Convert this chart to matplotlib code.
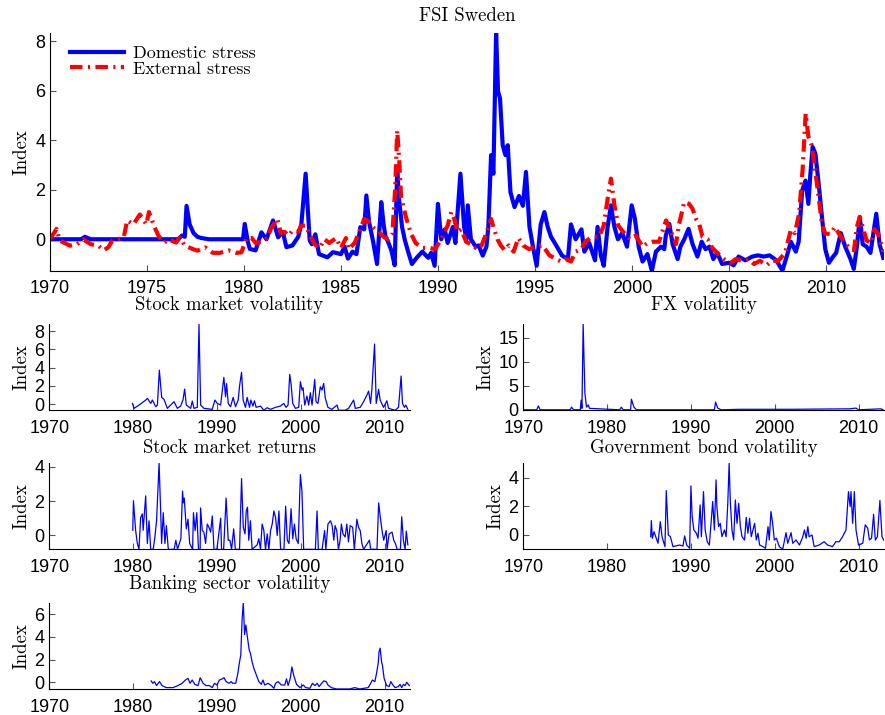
import matplotlib
matplotlib.use("Agg")
import matplotlib.pyplot as plt

# FSI components (year, index value)
dom_year = [1970.0, 1971.6, 1971.8, 1972.1, 1976.6, 1976.8, 1976.95, 1977.04, 1977.2, 1977.4,
            1977.6, 1977.8, 1978.2, 1979.95, 1980.04, 1980.2, 1980.3, 1980.6, 1980.9, 1981.16,
            1981.5, 1981.76, 1982.0, 1982.19, 1982.5, 1982.8, 1982.96, 1983.18, 1983.39, 1983.5,
            1983.68, 1983.87, 1984.3, 1984.59, 1985.0, 1985.19, 1985.36, 1985.6, 1985.8, 1986.0,
            1986.2, 1986.31, 1986.45, 1986.66, 1986.86, 1987.08, 1987.2, 1987.3, 1987.4, 1987.6,
            1987.77, 1987.9, 1988.0, 1988.15, 1988.3, 1988.5, 1988.66, 1988.9, 1989.2, 1989.5,
            1989.65, 1989.83, 1990.0, 1990.17, 1990.35, 1990.5, 1990.77, 1990.9, 1991.16, 1991.35,
            1991.47, 1991.54, 1991.7, 1991.95, 1992.1, 1992.31, 1992.5, 1992.6, 1992.74, 1992.86,
            1993.0, 1993.1, 1993.2, 1993.34, 1993.48, 1993.6, 1993.74, 1993.95, 1994.18, 1994.38,
            1994.54, 1994.72, 1994.9, 1995.09, 1995.3, 1995.49, 1995.66, 1995.83, 1996.1, 1996.4,
            1996.7, 1996.86, 1997.1, 1997.4, 1997.55, 1997.8, 1998.1, 1998.23, 1998.4, 1998.55,
            1998.75, 1998.92, 1999.1, 1999.28, 1999.5, 1999.75, 1999.99, 2000.15, 2000.35, 2000.55,
            2000.8, 2001.03, 2001.24, 2001.5, 2001.67, 2001.75, 2001.93, 2002.1, 2002.36, 2002.5,
            2002.7, 2002.92, 2003.13, 2003.38, 2003.6, 2003.8, 2004.0, 2004.2, 2004.4, 2004.65,
            2005.0, 2005.25, 2005.5, 2005.85, 2006.2, 2006.5, 2006.8, 2007.1, 2007.45, 2007.76,
            2008.0, 2008.2, 2008.45, 2008.6, 2008.78, 2008.95, 2009.1, 2009.2, 2009.32, 2009.46,
            2009.63, 2009.8, 2009.97, 2010.16, 2010.33, 2010.53, 2010.77, 2011.0, 2011.27, 2011.44,
            2011.6, 2011.75, 2011.9, 2012.1, 2012.3, 2012.6, 2012.77, 2012.96]
dom_val = [0, 0, 0.1, 0, 0, 0.15, 0.1, 1.35, 0.6, 0.25,
           0.1, 0.05, 0, 0, 0.62, -0.1, -0.39, -0.45, 0.28, 0.0,
           0.76, 0.08, 0.3, -0.32, -0.25, 0.1, 0.62, 2.65, -0.05, -0.2,
           0.2, -0.6, -0.73, -0.52, -0.6, -0.3, -0.78, -0.5, -0.6, 0.49,
           0.4, 1.77, 0.7, -0.1, -1.0, 1.5, 0.6, 0.1, -0.05, -0.45,
           -1.05, 2.78, 1.6, 0.5, -0.05, -0.6, -1.0, -0.75, -0.5, -0.75,
           -0.55, -1.07, 1.43, 0.0, 0.4, -0.15, 0.5, -0.15, 2.65, 0.5,
           0.0, 1.37, 0.0, -0.3, -0.25, -0.66, -0.3, 0.5, 3.4, 2.65,
           8.35, 5.96, 5.7, 3.8, 3.4, 3.8, 1.9, 1.3, 1.75, 1.35,
           2.72, 0.5, -0.3, -1.07, 0.6, 1.1, 0.5, 0.1, -0.25, -0.66,
           -0.8, 0.6, 0.0, 0.4, -0.5, -0.15, -0.85, 0.5, -0.66, -1.07,
           0.5, 1.37, 0.5, 0.0, 0.25, -0.3, 1.37, 0.85, -0.3, -0.9,
           -0.6, -1.27, -0.5, -0.3, -0.4, 0.15, 0.62, -0.2, -0.8, -0.3,
           0.0, 0.42, -0.2, -0.7, -0.1, -0.4, -0.3, -0.8, -0.55, -1.0,
           -0.95, -1.05, -0.7, -0.85, -0.7, -0.65, -0.7, -0.65, -0.85, -1.27,
           -0.65, -0.1, -0.5, -0.1, 1.97, 2.37, 1.43, 2.6, 3.73, 3.46,
           2.25, 0.9, -0.4, -0.95, -0.75, -0.55, 0.25, -0.3, -0.8, -1.2,
           -0.3, 0.9, -0.2, -0.3, -0.55, 1.03, -0.2, -0.75]

ext_year = [1970.0, 1970.34, 1970.5, 1971.03, 1971.4, 1971.7, 1972.1, 1972.5, 1972.75, 1973.0,
            1973.2, 1973.5, 1973.8, 1973.98, 1974.3, 1974.63, 1974.97, 1975.1, 1975.4, 1975.6,
            1975.9, 1976.1, 1976.5, 1976.7, 1976.95, 1977.38, 1977.6, 1978.0, 1978.4, 1978.75,
            1979.2, 1979.6, 1979.87, 1980.13, 1980.4, 1980.6, 1980.9, 1981.2, 1981.4, 1981.72,
            1981.9, 1982.1, 1982.3, 1982.5, 1982.8, 1982.95, 1983.2, 1983.4, 1983.65, 1983.9,
            1984.15, 1984.4, 1984.75, 1985.0, 1985.26, 1985.4, 1985.7, 1985.95, 1986.2, 1986.45,
            1986.7, 1986.95, 1987.2, 1987.45, 1987.65, 1987.8, 1987.9, 1988.0, 1988.1, 1988.35,
            1988.6, 1988.85, 1989.2, 1989.55, 1989.85, 1990.17, 1990.35, 1990.5, 1990.69, 1990.85,
            1991.0, 1991.2, 1991.45, 1991.7, 1991.95, 1992.2, 1992.45, 1992.74, 1992.9, 1993.07,
            1993.24, 1993.45, 1993.65, 1993.9, 1994.15, 1994.4, 1994.7, 1995.0, 1995.4, 1995.75,
            1996.1, 1996.35, 1996.6, 1996.86, 1997.1, 1997.4, 1997.6, 1997.95, 1998.3, 1998.55,
            1998.75, 1998.92, 1999.1, 1999.3, 1999.55, 1999.9, 2000.2, 2000.55, 2000.8, 2001.05,
            2001.4, 2001.76, 2002.0, 2002.27, 2002.43, 2002.7, 2002.95, 2003.13, 2003.3, 2003.47,
            2003.64, 2003.9, 2004.15, 2004.4, 2004.75, 2005.1, 2005.35, 2005.7, 2006.0, 2006.3,
            2006.6, 2006.95, 2007.2, 2007.55, 2007.9, 2008.2, 2008.4, 2008.62, 2008.8, 2008.96,
            2009.1, 2009.27, 2009.47, 2009.63, 2009.8, 2009.97, 2010.25, 2010.47, 2010.68, 2010.9,
            2011.2, 2011.45, 2011.6, 2011.75, 2011.9, 2012.1, 2012.35, 2012.5, 2012.7, 2012.96]
ext_val = [0, 0.42, -0.05, -0.26, -0.2, 0.0, -0.2, -0.26, -0.45, -0.33,
           -0.07, 0.0, 0.07, 0.76, 0.6, 1.0, 0.6, 1.1, 0.47, 0.13,
           -0.13, 0.0, -0.13, 0.07, -0.26, -0.4, -0.46, -0.33, -0.55, -0.55,
           -0.45, -0.55, -0.53, 0.05, 0.05, -0.15, -0.1, 0.05, 0.45, 0.82,
           0.25, 0.3, 0.15, 0.35, 0.3, 0.55, 0.55, 0.15, -0.2, -0.35,
           0.0, -0.15, 0.05, -0.35, 0.05, -0.4, -0.15, 0.3, 0.82, 0.7,
           0.45, 0.3, 0.1, 0.0, 0.2, 2.1, 4.4, 3.26, 1.7, 0.9,
           0.25, -0.15, -0.35, -0.35, -0.4, 0.0, 0.3, 0.55, 1.1, 0.8,
           0.3, 0.4, -0.1, -0.2, -0.35, -0.35, 0.15, 0.82, 0.4, 0.0,
           -0.25, -0.45, -0.25, -0.5, 0.05, -0.25, -0.4, -0.3, -0.25, -0.65,
           -0.8, -0.9, -0.8, -0.9, -0.5, -0.4, -0.1, 0.1, 0.1, 0.55,
           1.64, 2.45, 1.37, 0.55, 0.3, 0.0, 0.15, -0.3, -0.15, -0.1,
           -0.1, 0.76, 0.35, -0.2, 0.6, 1.5, 1.43, 1.23, 0.83, 0.62,
           0.1, 0.0, -0.35, -0.55, -0.8, -0.95, -0.8, -0.87, -0.8, -1.0,
           -0.87, -1.05, -0.87, -0.87, -0.55, 0.4, 0.25, 1.03, 2.78, 5.08,
           4.14, 3.8, 2.66, 1.7, 0.63, 0.22, 0.22, 0.5, 0.22, -0.05,
           -0.35, -0.45, 0.5, 0.9, 0.5, -0.05, -0.15, 0.4, 0.22, -0.5]

svol_year = [1979.92, 1980.12, 1980.71, 1981.51, 1981.71, 1982.1, 1982.3, 1982.7, 1982.9, 1983.13,
             1983.41, 1983.69, 1984.09, 1984.48, 1984.88, 1985.28, 1985.67, 1985.95, 1986.15, 1986.35,
             1986.87, 1987.06, 1987.26, 1987.66, 1987.86, 1988.06, 1988.45, 1989.44, 1989.76, 1990.04,
             1990.44, 1990.83, 1991.03, 1991.15, 1991.35, 1991.63, 1991.94, 1992.22, 1992.54, 1992.7,
             1992.94, 1993.13, 1993.41, 1993.61, 1993.89, 1994.05, 1994.29, 1994.48, 1994.68, 1995.2,
             1995.6, 1995.99, 1996.39, 1996.98, 1997.58, 1997.98, 1998.25, 1998.49, 1998.69, 1998.85,
             1999.05, 1999.37, 1999.76, 1999.96, 2000.16, 2000.28, 2000.48, 2000.75, 2000.95, 2001.15,
             2001.35, 2001.67, 2001.83, 2002.06, 2002.34, 2002.54, 2002.74, 2002.94, 2003.25, 2003.73,
             2004.33, 2004.52, 2005.32, 2005.71, 2006.31, 2006.51, 2007.1, 2007.5, 2007.9, 2008.1,
             2008.33, 2008.49, 2008.81, 2009.01, 2009.29, 2009.48, 2009.88, 2010.28, 2010.48, 2011.27,
             2011.67, 2011.98, 2012.14, 2012.38, 2012.54, 2012.78]
svol_val = [0.07, -0.47, -0.11, 0.44, 0.62, 0.07, 0.44, -0.29, -0.11, 3.72,
            0.73, 0.51, -0.47, -0.11, 0.26, -0.47, -0.22, 0.44, 1.64, -0.11,
            -0.47, 0.33, -0.47, -0.36, 8.76, -0.11, -0.47, -0.58, 0.44, 0.07,
            -0.11, 2.92, 0.8, 2.26, 0.07, -0.29, 0.73, -0.29, 0.44, 1.97,
            3.47, 0.44, -0.36, 0.73, -0.36, 0.44, -0.22, 0.36, -0.36, -0.22,
            -0.68, -0.4, -0.58, -0.36, -0.22, 0.07, -0.36, -0.11, 3.25, 2.19,
            0.07, -0.47, -0.36, 2.45, 1.53, 1.79, -0.11, 0.88, -0.11, 1.24,
            -0.11, 2.7, 0.26, 0.07, 1.9, 1.53, 2.26, 0.62, -0.36, -0.58,
            -0.11, -0.68, -0.68, -0.47, 0.44, -0.47, -0.36, 0.26, 0.99, 1.42,
            0.07, 1.61, 6.57, 0.07, 1.61, 0.44, -0.36, 0.36, -0.47, -0.68,
            -0.36, 3.07, 0.07, -0.36, -0.11, -0.58]

fx_year = [1970.0, 1971.6, 1971.8, 1972.0, 1975.6, 1975.75, 1976.0, 1976.8, 1976.9, 1977.0,
           1977.14, 1977.35, 1977.55, 1977.75, 1977.9, 1981.5, 1981.7, 1981.9, 1982.8, 1982.9,
           1983.2, 1983.5, 1992.8, 1992.94, 1993.2, 1993.6, 1995.8, 2001.7, 2008.9, 2009.7,
           2010.0, 2012.7, 2013.0]
fx_val = [0.0, 0.0, 0.8, 0.0, 0.0, 0.55, 0.0, 0.0, 2.0, 0.3,
          17.8, 3.4, 0.55, 1.0, 0.3, 0.0, 0.55, 0.0, 0.0, 2.2,
          0.55, 0.0, 0.0, 1.6, 0.35, 0.0, 0.1, 0.1, 0.2, 0.35,
          0.0, 0.2, -0.1]

sret_year = [1979.96, 1980.04, 1980.3, 1980.5, 1980.7, 1980.9, 1981.1, 1981.2, 1981.5, 1981.7,
             1981.9, 1982.1, 1982.4, 1982.6, 1982.8, 1983.1, 1983.3, 1983.4, 1983.6, 1983.8,
             1983.97, 1984.2, 1984.9, 1985.1, 1985.3, 1985.7, 1985.9, 1986.0, 1986.1, 1986.35,
             1986.55, 1986.75, 1987.1, 1987.2, 1987.4, 1987.6, 1987.8, 1988.0, 1988.05, 1988.25,
             1988.45, 1988.65, 1988.85, 1989.05, 1989.25, 1989.45, 1989.65, 1990.0, 1990.45, 1990.55,
             1990.8, 1991.1, 1991.35, 1991.55, 1991.75, 1992.0, 1992.2, 1992.7, 1992.94, 1993.15,
             1993.35, 1993.5, 1993.65, 1993.8, 1994.0, 1994.2, 1994.8, 1995.0, 1995.2, 1995.4,
             1995.6, 1995.8, 1996.0, 1996.2, 1996.4, 1996.6, 1996.8, 1997.0, 1997.2, 1997.4,
             1997.6, 1998.0, 1998.2, 1998.4, 1998.6, 1998.85, 1999.05, 1999.25, 1999.45, 1999.7,
             1999.96, 2000.15, 2000.35, 2001.75, 2001.95, 2002.1, 2002.55, 2002.85, 2003.0, 2003.25,
             2003.55, 2003.75, 2003.95, 2004.1, 2004.3, 2004.5, 2004.7, 2004.85, 2005.05, 2005.3,
             2005.5, 2005.7, 2005.9, 2006.2, 2006.4, 2006.7, 2006.9, 2007.1, 2007.3, 2007.5,
             2008.2, 2008.35, 2009.1, 2009.3, 2009.5, 2009.7, 2009.9, 2010.2, 2010.3, 2010.55,
             2010.9, 2011.1, 2011.3, 2011.5, 2011.9, 2012.05, 2012.25, 2012.45, 2012.6, 2012.78]
sret_val = [0.3, 2.02, 0.3, -0.45, -0.81, 1.04, 1.25, 0.3, 2.3, -0.47,
            0.85, -0.81, -0.81, -0.09, 0.85, 4.2, 1.23, -0.47, 1.32, -0.47,
            0.57, -0.81, -0.81, -0.28, -0.81, -0.19, 2.58, 1.89, 2.17, 0.38,
            0.94, -0.47, -0.81, 1.32, 0.28, 1.32, -0.81, -0.81, 1.6, 0.28,
            0.19, -0.47, 0.66, 0.47, 0.19, 1.13, -0.81, -0.81, 1.0, -0.81,
            -0.81, 2.17, -0.28, -0.28, -0.81, 0.38, -0.81, -0.81, 3.3, 0.47,
            0.09, 1.42, 1.64, -0.28, 0.85, -0.81, -0.55, -0.19, -0.81, 0.66,
            0.28, -0.81, 0.09, -0.81, 0.28, 0.66, 1.42, 1.04, -0.0, 1.42,
            -0.81, -0.81, 1.7, -0.28, -0.47, 1.55, -0.19, 0.66, -0.19, -0.47,
            3.53, 2.55, -0.81, -0.81, 1.42, -0.81, -0.81, 0.28, -0.81, 0.66,
            0.85, 0.57, -0.28, 0.57, 0.28, -0.81, -0.28, 0.66, 0.09, -0.09,
            0.66, -0.38, 0.57, 0.47, -0.81, 0.94, 0.47, 0.28, -0.47, -0.81,
            -0.28, -0.81, -0.81, 1.89, 1.04, 0.28, -0.28, 0.28, -0.81, 0.09,
            0.19, -0.28, -0.47, -0.81, -0.81, 1.08, -0.28, -0.81, 0.25, -0.55]

gbond_year = [1985.2, 1985.28, 1985.4, 1985.6, 1985.8, 1986.07, 1986.35, 1986.55, 1986.9, 1987.06,
              1987.3, 1987.55, 1987.86, 1988.65, 1989.05, 1989.25, 1989.5, 1989.85, 1990.0, 1990.15,
              1990.35, 1990.65, 1990.85, 1991.1, 1991.25, 1991.5, 1991.7, 1991.95, 1992.2, 1992.6,
              1992.8, 1993.0, 1993.1, 1993.3, 1993.5, 1993.7, 1994.0, 1994.2, 1994.4, 1994.56,
              1994.7, 1994.9, 1995.1, 1995.3, 1995.5, 1995.7, 1995.9, 1996.1, 1996.4, 1996.6,
              1996.8, 1997.0, 1997.2, 1997.6, 1997.8, 1998.0, 1998.2, 1998.6, 1998.9, 1999.2,
              1999.35, 1999.55, 1999.75, 1999.95, 2000.2, 2000.55, 2000.95, 2001.35, 2001.55, 2001.95,
              2002.15, 2002.55, 2002.95, 2003.35, 2003.55, 2003.75, 2003.95, 2004.1, 2004.45, 2004.7,
              2005.3, 2005.9, 2006.3, 2006.9, 2007.3, 2007.7, 2008.1, 2008.5, 2008.8, 2009.0,
              2009.1, 2009.3, 2009.5, 2009.7, 2010.0, 2010.5, 2010.8, 2011.1, 2011.3, 2011.55,
              2011.8, 2012.0, 2012.25, 2012.55, 2012.8, 2013.0]
gbond_val = [-0.12, 1.0, -0.23, 0.23, -0.12, -0.58, 0.93, -0.12, -0.81, 3.09,
             0.0, -0.12, -0.81, -0.7, -0.77, -0.07, -0.7, -0.93, 3.42, 1.28,
             0.35, 0.12, -0.23, 2.09, -0.12, 3.02, 0.35, -0.47, -0.7, 2.33,
             0.35, 3.84, 1.98, 0.58, 0.81, -0.12, 0.35, -0.12, 2.21, 5.0,
             2.33, 0.35, -0.35, 2.44, 0.81, 2.21, 0.58, -0.12, -0.35, 1.23,
             0.12, 1.16, -0.12, 0.81, -0.35, 0.12, -0.7, -0.81, -0.93, 0.58,
             -0.35, 1.63, 0.81, -0.35, -0.23, -0.81, -1.0, 0.16, -0.58, 0.16,
             -0.58, -0.35, -0.7, -0.12, 0.35, -0.23, 0.58, -0.12, 0.0, -0.81,
             -0.7, -0.47, -0.7, -0.81, -0.47, -0.47, -0.12, 0.35, 3.02, 1.98,
             3.02, 0.81, 3.02, 0.35, -0.7, -0.58, 0.7, 0.47, -0.35, -0.23,
             1.44, -0.35, -0.12, 2.4, -0.12, -0.35]

bank_year = [1982.15, 1982.35, 1982.55, 1982.8, 1983.15, 1983.45, 1983.95, 1984.75, 1985.35, 1985.85,
             1986.25, 1986.55, 1986.8, 1987.05, 1987.35, 1987.75, 1988.0, 1988.35, 1988.7, 1989.1,
             1989.45, 1989.7, 1990.0, 1990.3, 1990.65, 1990.85, 1991.1, 1991.45, 1991.7, 1991.9,
             1992.25, 1992.5, 1992.7, 1992.85, 1993.0, 1993.15, 1993.3, 1993.45, 1993.6, 1993.85,
             1994.0, 1994.2, 1994.4, 1994.7, 1995.0, 1995.3, 1995.5, 1995.7, 1996.1, 1996.5,
             1996.8, 1997.0, 1997.3, 1997.7, 1998.1, 1998.3, 1998.5, 1998.75, 1998.95, 1999.15,
             1999.5, 1999.9, 2000.3, 2000.6, 2001.1, 2001.4, 2001.7, 2001.95, 2002.2, 2002.5,
             2002.75, 2003.05, 2003.25, 2003.65, 2004.25, 2005.85, 2006.45, 2007.05, 2008.05, 2008.35,
             2008.55, 2008.85, 2009.05, 2009.25, 2009.35, 2009.48, 2009.65, 2009.75, 2009.95, 2010.25,
             2010.55, 2010.75, 2010.95, 2011.25, 2011.65, 2011.85, 2012.05, 2012.25, 2012.45, 2012.65,
             2012.95]
bank_val = [0.12, -0.09, 0.06, -0.29, 0.06, -0.29, -0.47, -0.47, -0.29, -0.09,
            0.2, 0.35, -0.09, 0.2, -0.18, -0.29, 0.4, -0.09, -0.29, -0.29,
            -0.47, -0.09, -0.24, 0.2, 0.3, 0.4, 0.06, -0.09, 0.06, -0.09,
            -0.09, 0.8, 1.8, 2.4, 5.5, 7.0, 4.2, 5.05, 4.2, 2.85,
            2.55, 1.8, 1.25, 0.65, 0.06, -0.18, 0.2, -0.24, -0.09, -0.29,
            -0.53, -0.09, 0.06, -0.24, -0.24, 0.3, -0.29, 0.35, 1.35, 0.65,
            -0.18, -0.47, -0.24, -0.47, -0.53, -0.09, -0.29, -0.09, -0.38, -0.09,
            0.12, 0.06, -0.24, -0.47, -0.59, -0.59, -0.47, -0.59, -0.47, -0.09,
            0.2, 0.06, 0.8, 1.7, 2.7, 3.0, 1.8, 1.5, 0.35, -0.29,
            -0.38, 0.06, -0.18, -0.47, -0.38, -0.18, -0.47, -0.18, -0.29, 0.0,
            -0.29]

SERIF = "cmr10"
SANS = "Liberation Sans"
plt.rcParams["font.family"] = SANS
plt.rcParams["axes.unicode_minus"] = False


def style_axes(ax, xticks, yticks):
    ax.spines["top"].set_visible(False)
    ax.spines["right"].set_visible(False)
    ax.set_xlim(1970, 2013)
    ax.set_xticks(xticks)
    ax.set_yticks(yticks)
    ax.tick_params(direction="in", length=4, width=0.8, labelsize=13, color="#555555")
    ax.tick_params(axis="x", pad=7)
    ax.tick_params(axis="y", pad=3.5)


fig = plt.figure(figsize=(8.85, 7.15), dpi=100)

# main panel
ax = fig.add_axes([0.0565, 0.6214, 0.9424, 0.333])
ax.plot(dom_year, dom_val, color="#0000ff", lw=3.0, label="Domestic stress")
ax.plot(ext_year, ext_val, color="#ff0000", lw=3.0, dashes=(3, 1.3, 0.5, 1.3),
        label="External stress")
style_axes(ax, range(1970, 2011, 5), [0, 2, 4, 6, 8])
ax.set_ylim(min(dom_val + ext_val), max(dom_val + ext_val))
ax.set_title("FSI Sweden", family=SERIF, fontsize=13.5, pad=8)
ax.set_ylabel("Index", family=SERIF, fontsize=13.5, labelpad=3)
leg = ax.legend(loc="upper left", frameon=False, prop={"family": SERIF, "size": 13},
                handlelength=3.0, handletextpad=0.5, labelspacing=0.0,
                borderaxespad=0.3, bbox_to_anchor=(0.009, 1.0))

# small panels
panels = [
    ("Stock market volatility", svol_year, svol_val, [0.0557, 0.4262], [0, 2, 4, 6, 8], 10),
    ("FX volatility", fx_year, fx_val, [0.5913, 0.4262], [0, 5, 10, 15], 10),
    ("Stock market returns", sret_year, sret_val, [0.0557, 0.2317], [0, 2, 4], 7),
    ("Government bond volatility", gbond_year, gbond_val, [0.5913, 0.2317], [0, 2, 4], 7),
    ("Banking sector volatility", bank_year, bank_val, [0.0557, 0.0364], [0, 2, 4, 6], 10),
]
for title, yrs, vals, (left, bottom), yt, tpad in panels:
    a = fig.add_axes([left, bottom, 0.4072, 0.1205])
    a.plot(yrs, vals, color="#0000ff", lw=0.9)
    style_axes(a, range(1970, 2011, 10), yt)
    a.set_ylim(min(vals), max(vals))
    a.set_title(title, family=SERIF, fontsize=13.5, pad=tpad)
    a.set_ylabel("Index", family=SERIF, fontsize=13.5, labelpad=3)

fig.savefig("out.png", dpi=100)
